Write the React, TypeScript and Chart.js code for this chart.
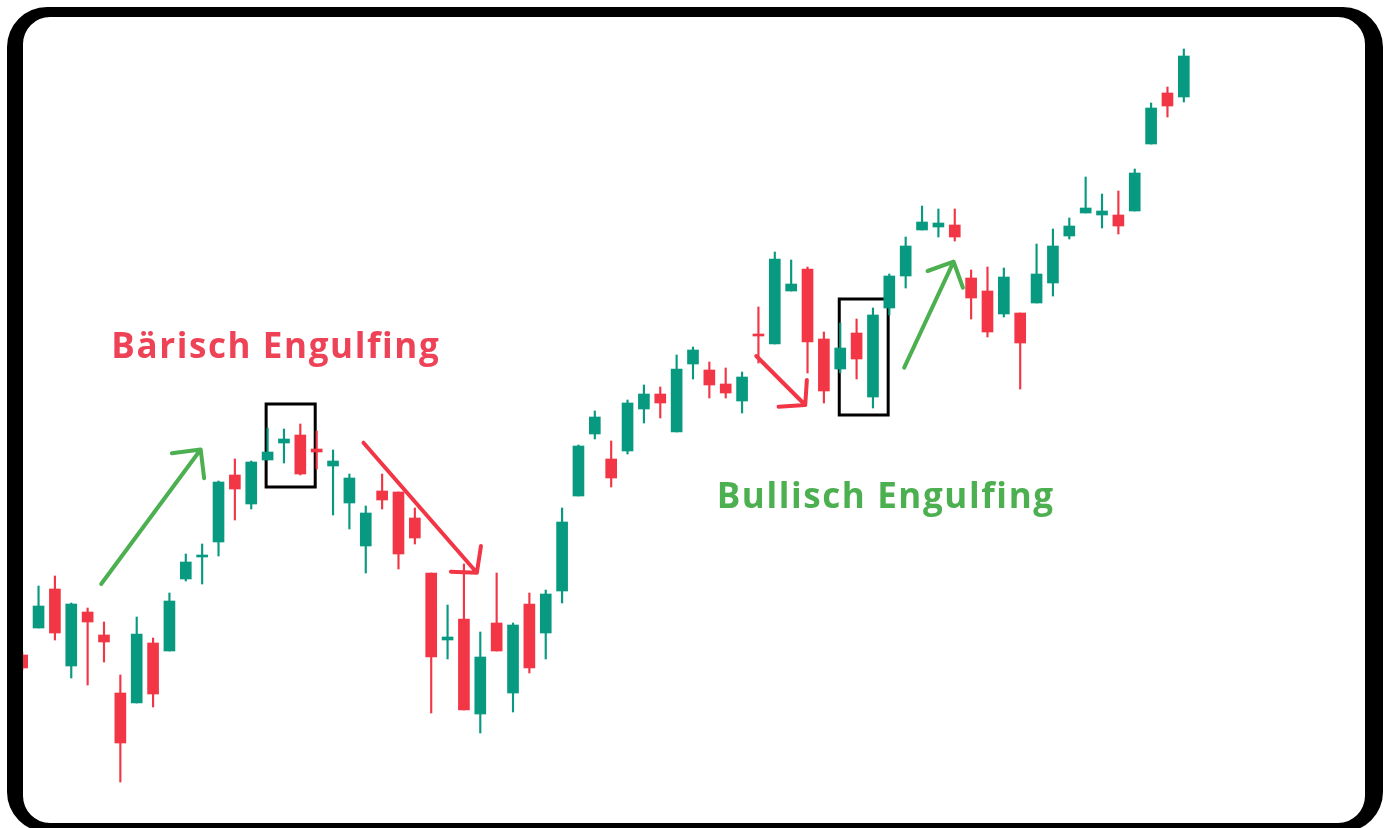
import React, { useEffect, useRef } from 'react';
import { Chart, registerables } from 'chart.js';

Chart.register(...registerables);

// ---- Candle data (72 sessions) ----
const sessions = [
  'T1','T2','T3','T4','T5','T6','T7','T8','T9','T10','T11','T12',
  'T13','T14','T15','T16','T17','T18','T19','T20','T21','T22','T23','T24',
  'T25','T26','T27','T28','T29','T30','T31','T32','T33','T34','T35','T36',
  'T37','T38','T39','T40','T41','T42','T43','T44','T45','T46','T47','T48',
  'T49','T50','T51','T52','T53','T54','T55','T56','T57','T58','T59','T60',
  'T61','T62','T63','T64','T65','T66','T67','T68','T69','T70','T71','T72',
];
const opens = [
  145,172,211,134,188,165,107,97,157,149,221,243,
  258,325,296,340,357,365,351,334,297,254,309,308,
  282,227,160,181,86,177,107,196,167,209,304,366,
  341,349,391,406,368,436,430,416,399,466,456,509,
  531,461,431,467,403,492,524,570,573,575,522,509,
  486,487,497,517,564,587,585,585,589,656,707,703,
];
const highs = [
  148,214,224,197,192,178,125,183,162,207,246,256,
  319,341,339,372,371,376,369,350,326,294,326,308,
  292,227,195,236,168,227,177,207,210,292,355,389,
  359,400,415,413,445,453,438,432,428,493,548,540,
  533,468,477,481,492,526,563,594,591,591,530,533,
  532,487,556,571,582,623,606,609,631,697,713,751,
];
const lows = [
  130,172,160,122,115,138,18,97,93,149,219,216,
  244,280,291,340,337,325,331,285,271,227,291,231,
  256,87,141,90,67,149,88,127,141,197,304,361,
  313,346,377,382,368,421,402,402,387,437,456,509,
  427,397,427,421,392,485,512,570,563,559,481,463,
  483,411,497,504,561,587,572,566,589,656,683,698,
];
const closes = [
  132,194,167,196,178,158,57,166,106,199,238,245,
  318,311,338,348,361,326,348,339,322,287,300,246,
  262,143,163,90,143,149,175,132,206,278,354,383,
  322,397,406,397,431,450,415,407,423,464,541,516,
  458,409,452,441,485,524,554,578,577,563,502,468,
  523,457,526,554,574,592,589,574,627,692,694,744,
];

// ---- Annotations (x = session index, y = price) ----
const arrowFrom = [[4.83, 216], [20.86, 357.3], [44.87, 444], [53.91, 432.3]];
const arrowTip = [[10.91, 350.5], [27.79, 227.3], [47.86, 395], [56.93, 538.3]];
const arrowWingA = [[9.15, 346.7], [28.04, 254], [47.96, 420], [55.34, 529]];
const arrowWingB = [[11.12, 321.7], [26.2, 228.3], [46.23, 393.3], [57.5, 512.3]];
const arrowKinds = ['up', 'down', 'down', 'up'];

const boxLeft = [14.91, 49.94];
const boxRight = [17.91, 52.93];
const boxTop = [396, 501];
const boxBottom = [313, 385];

const noteTexts = ['Bärisch Engulfing', 'Bullisch Engulfing'];
const noteX = [5.45, 42.45];
const noteY = [442, 292];
const noteKinds = ['down', 'up'];

const UP = '#089981';
const DOWN = '#f23645';
const ARROW_UP = '#4caf50';
const ARROW_DOWN = '#f23645';
const TEXT_UP = '#4caf50';
const TEXT_DOWN = '#ee4257';

function roundRectPath(ctx: CanvasRenderingContext2D, x: number, y: number, w: number, h: number, r: number) {
  ctx.moveTo(x + r, y);
  ctx.lineTo(x + w - r, y);
  ctx.arcTo(x + w, y, x + w, y + r, r);
  ctx.lineTo(x + w, y + h - r);
  ctx.arcTo(x + w, y + h, x + w - r, y + h, r);
  ctx.lineTo(x + r, y + h);
  ctx.arcTo(x, y + h, x, y + h - r, r);
  ctx.lineTo(x, y + r);
  ctx.arcTo(x, y, x + r, y, r);
  ctx.closePath();
}

const annotPlugin = {
  id: 'annot',
  beforeDraw(chart: any) {
    const ctx = chart.ctx as CanvasRenderingContext2D;
    ctx.save();
    ctx.fillStyle = '#ffffff';
    ctx.fillRect(0, 0, chart.width, chart.height);
    ctx.restore();
  },
  beforeDatasetsDraw(chart: any) {
    const ctx = chart.ctx as CanvasRenderingContext2D;
    const xs = chart.scales.x;
    const ys = chart.scales.y;
    ctx.save();
    ctx.strokeStyle = '#000000';
    ctx.lineWidth = 3;
    for (let i = 0; i < boxLeft.length; i++) {
      const l = xs.getPixelForValue(boxLeft[i]);
      const r = xs.getPixelForValue(boxRight[i]);
      const t = ys.getPixelForValue(boxTop[i]);
      const b = ys.getPixelForValue(boxBottom[i]);
      ctx.strokeRect(l, t, r - l, b - t);
    }
    ctx.restore();
  },
  afterDatasetsDraw(chart: any) {
    const ctx = chart.ctx as CanvasRenderingContext2D;
    const xs = chart.scales.x;
    const ys = chart.scales.y;
    const P = (pt: number[]) => [xs.getPixelForValue(pt[0]), ys.getPixelForValue(pt[1])];
    ctx.save();
    ctx.lineCap = 'round';
    ctx.lineJoin = 'round';
    ctx.lineWidth = 4;
    for (let i = 0; i < arrowFrom.length; i++) {
      ctx.strokeStyle = arrowKinds[i] === 'up' ? ARROW_UP : ARROW_DOWN;
      const a = P(arrowFrom[i]);
      const t = P(arrowTip[i]);
      const w1 = P(arrowWingA[i]);
      const w2 = P(arrowWingB[i]);
      ctx.beginPath();
      ctx.moveTo(a[0], a[1]);
      ctx.lineTo(t[0], t[1]);
      ctx.moveTo(w1[0], w1[1]);
      ctx.lineTo(t[0], t[1]);
      ctx.lineTo(w2[0], w2[1]);
      ctx.stroke();
    }
    ctx.font = '700 35px "Open Sans", "Noto Sans", sans-serif';
    ctx.textBaseline = 'alphabetic';
    ctx.textAlign = 'left';
    (ctx as any).letterSpacing = '1.6px';
    for (let i = 0; i < noteTexts.length; i++) {
      ctx.fillStyle = noteKinds[i] === 'up' ? TEXT_UP : TEXT_DOWN;
      ctx.fillText(noteTexts[i], xs.getPixelForValue(noteX[i]), ys.getPixelForValue(noteY[i]));
    }
    (ctx as any).letterSpacing = '0px';
    // rounded black frame
    ctx.beginPath();
    roundRectPath(ctx, 7, 7, 1376, 825, 40);
    roundRectPath(ctx, 23, 17, 1342, 806, 27);
    ctx.fillStyle = '#000000';
    ctx.fill('evenodd');
    ctx.restore();
  },
};

export default function App() {
  const ref = useRef<HTMLCanvasElement | null>(null);
  useEffect(() => {
    if (!ref.current) return;
    const colors = opens.map((o, i) => (closes[i] >= o ? UP : DOWN));
    const chart = new Chart(ref.current, {
      type: 'bar',
      data: {
        labels: sessions,
        datasets: [
          {
            label: 'body',
            data: opens.map((o, i) => [o, closes[i]]),
            backgroundColor: colors,
            borderWidth: 0,
            barThickness: 11,
            grouped: false,
            order: 0,
          } as any,
          {
            label: 'wick',
            data: lows.map((l, i) => [l, highs[i]]),
            backgroundColor: colors,
            borderWidth: 0,
            barThickness: 1.5,
            grouped: false,
            order: 1,
          } as any,
        ],
      },
      options: {
        responsive: false,
        animation: false,
        devicePixelRatio: 1,
        layout: { padding: { left: 14, right: 197, top: 0, bottom: 0 } },
        scales: {
          x: { type: 'category', display: false, offset: true },
          y: { type: 'linear', display: false, min: -28, max: 800 },
        },
        plugins: {
          legend: { display: false },
          tooltip: { enabled: false },
        },
        events: [],
      },
      plugins: [annotPlugin],
    });
    return () => chart.destroy();
  }, []);
  return (
    <div style={{ position: 'fixed', left: 0, top: 0, width: 1389, height: 828, background: '#fff' }}>
      <canvas ref={ref} width={1389} height={828} style={{ display: 'block', width: 1389, height: 828 }} />
    </div>
  );
}
